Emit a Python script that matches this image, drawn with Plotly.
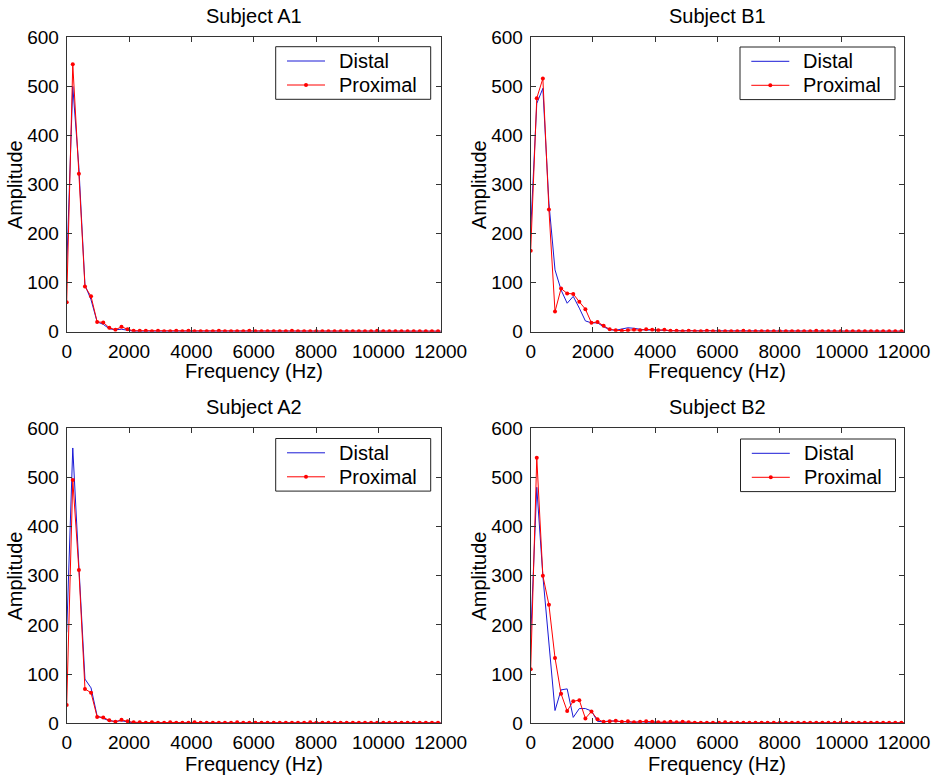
import plotly.graph_objects as go

FREQ = [0, 195, 391, 586, 781, 977, 1172, 1367, 1563, 1758, 1953, 2148, 2344, 2539, 2734,
        2930, 3125, 3320, 3516, 3711, 3906, 4102, 4297, 4492, 4688, 4883, 5078, 5273, 5469,
        5664, 5859, 6055, 6250, 6445, 6641, 6836, 7031, 7227, 7422, 7617, 7813, 8008, 8203,
        8398, 8594, 8789, 8984, 9180, 9375, 9570, 9766, 9961, 10156, 10352, 10547, 10742,
        10938, 11133, 11328, 11523, 11719, 11914, 12109]

TITLES = ["Subject A1", "Subject B1", "Subject A2", "Subject B2"]
SERIES_NAMES = ["Distal", "Proximal"]
X_TICKS = [0, 2000, 4000, 6000, 8000, 10000, 12000]
X_TICK_TEXT = ["0", "2000", "4000", "6000", "8000", "10000", "12000"]
Y_TICKS = [0, 100, 200, 300, 400, 500, 600]
Y_TICK_TEXT = ["0", "100", "200", "300", "400", "500", "600"]

A1_DISTAL = [130, 500, 335, 95, 65, 20, 15, 6, 4, 5, 3, 1, 1, 1, 1, 1, 1, 1, 1, 1,
             1, 1, 1, 1, 1, 1, 1, 1, 1, 1, 1, 1, 1, 1, 1, 1, 1, 1, 1, 1,
             1, 1, 1, 1, 1, 1, 1, 1, 1, 1, 1, 1, 1, 1, 1, 1, 1, 1, 1, 1,
             1, 1, 1]
A1_PROXIMAL = [60, 545, 322, 92, 72, 20, 19, 8, 4, 10, 5, 2, 2, 2, 1, 2, 1, 1, 2, 1,
               2, 1, 1, 1, 1, 2, 1, 1, 1, 1, 2, 1, 1, 1, 1, 1, 1, 2, 1, 1,
               1, 1, 1, 1, 1, 1, 1, 1, 1, 1, 1, 2, 1, 1, 1, 1, 1, 1, 1, 1,
               1, 1, 1]

B1_DISTAL = [207, 465, 496, 262, 126, 85, 58, 72, 48, 22, 18, 18, 10, 4, 3, 5, 8, 7, 5, 3,
             4, 3, 3, 2, 2, 2, 1, 1, 1, 1, 1, 1, 1, 1, 1, 1, 1, 1, 1, 1,
             1, 1, 1, 1, 1, 1, 1, 1, 1, 1, 1, 1, 1, 1, 1, 1, 1, 1, 1, 1,
             1, 1, 1]
B1_PROXIMAL = [165, 476, 516, 249, 41, 88, 78, 77, 61, 46, 18, 20, 12, 5, 3, 2, 3, 4, 3, 5,
               4, 3, 4, 2, 2, 1, 2, 1, 1, 2, 1, 1, 1, 1, 1, 2, 1, 1, 1, 1,
               1, 1, 1, 1, 1, 1, 1, 2, 1, 1, 1, 1, 1, 1, 1, 1, 1, 1, 1, 1,
               1, 1, 1]

A2_DISTAL = [185, 560, 320, 90, 72, 15, 10, 5, 4, 5, 3, 1, 1, 1, 1, 1, 1, 1, 1, 1,
             1, 1, 1, 1, 1, 1, 1, 1, 1, 1, 1, 1, 1, 1, 1, 1, 1, 1, 1, 1,
             1, 1, 1, 1, 1, 1, 1, 1, 1, 1, 1, 1, 1, 1, 1, 1, 1, 1, 1, 1,
             1, 1, 1]
A2_PROXIMAL = [37, 495, 312, 70, 62, 13, 12, 6, 3, 7, 4, 2, 2, 1, 2, 1, 1, 2, 1, 1,
               1, 2, 1, 1, 1, 1, 1, 1, 2, 1, 1, 1, 1, 1, 1, 1, 1, 1, 1, 1,
               2, 1, 1, 1, 1, 1, 1, 1, 1, 1, 1, 1, 1, 1, 1, 1, 1, 1, 1, 1,
               1, 1, 1]

B2_DISTAL = [175, 480, 300, 160, 26, 68, 70, 12, 30, 30, 25, 4, 3, 5, 4, 3, 2, 2, 3, 2,
             2, 2, 1, 1, 2, 1, 1, 1, 1, 1, 1, 1, 2, 1, 1, 1, 1, 1, 1, 1,
             1, 1, 1, 1, 1, 1, 1, 1, 1, 1, 1, 1, 1, 1, 1, 1, 1, 1, 1, 1,
             1, 1, 1]
B2_PROXIMAL = [110, 540, 300, 241, 133, 60, 25, 45, 47, 10, 24, 8, 3, 4, 5, 3, 4, 2, 3, 4,
               3, 2, 2, 3, 2, 3, 2, 1, 1, 1, 1, 1, 2, 1, 1, 1, 1, 1, 1, 1,
               1, 1, 1, 1, 1, 1, 1, 1, 1, 1, 1, 1, 1, 1, 1, 1, 1, 1, 1, 1,
               1, 1, 1]

SERIES = [(A1_DISTAL, A1_PROXIMAL), (B1_DISTAL, B1_PROXIMAL),
          (A2_DISTAL, A2_PROXIMAL), (B2_DISTAL, B2_PROXIMAL)]

W, H = 940, 778
# plot-area pixel boxes (left, right, top, bottom)
BOXES = [(66.7, 440.7, 37.3, 331.7), (530.7, 904.0, 37.3, 331.7),
         (66.7, 440.7, 428.3, 723.3), (530.7, 904.0, 428.3, 723.3)]
# legend box (right, top) in pixels
LEGEND_POS = [(430.7, 46.7), (895.0, 47.0), (430.7, 438.5), (895.5, 439.0)]
XLABEL_SHIFT = [-39, -39, -41, -41]

FONT = "Liberation Sans, Arial, sans-serif"
AX_COLOR = "#333333"
BLUE = "#1a1ad6"
RED = "#ff0000"
COLORS = [BLUE, RED]


def px(x):
    return x / W


def py(y):
    return 1 - y / H


fig = go.Figure()
layout = dict(width=W, height=H, margin=dict(l=0, r=0, t=0, b=0, autoexpand=False),
              paper_bgcolor="white", plot_bgcolor="white", showlegend=False,
              font=dict(family=FONT, size=19, color="black"))
annotations = []
shapes = []

for k in range(4):
    ax = "" if k == 0 else str(k + 1)
    l, r, t, b = BOXES[k]
    dist, prox = SERIES[k]
    fig.add_trace(go.Scatter(x=FREQ[:len(dist)], y=dist, mode="lines", name=SERIES_NAMES[0],
                             line=dict(color=BLUE, width=1), xaxis="x" + ax, yaxis="y" + ax))
    fig.add_trace(go.Scatter(x=FREQ[:len(prox)], y=prox, mode="lines+markers",
                             name=SERIES_NAMES[1],
                             line=dict(color=RED, width=1), marker=dict(color=RED, size=4),
                             xaxis="x" + ax, yaxis="y" + ax))
    common = dict(showline=True, linecolor=AX_COLOR, linewidth=1, mirror="allticks",
                  ticks="inside", ticklen=5, tickcolor=AX_COLOR, showgrid=False,
                  zeroline=False, automargin=False,
                  tickfont=dict(family=FONT, size=19, color="black"))
    layout["xaxis" + ax] = dict(domain=[l / W, r / W], range=[0, 12000], tickvals=X_TICKS,
                                ticktext=X_TICK_TEXT, anchor="y" + ax, ticklabelstandoff=2,
                                **common)
    layout["yaxis" + ax] = dict(domain=[1 - b / H, 1 - t / H], range=[0, 600], tickvals=Y_TICKS,
                                ticktext=Y_TICK_TEXT, anchor="x" + ax, ticklabelstandoff=3,
                                **common)

    # legend box drawn in the MATLAB style
    lr, lt = LEGEND_POS[k]
    shapes.append(dict(type="rect", xref="paper", yref="paper",
                       x0=px(lr - 155), x1=px(lr), y0=py(lt + 52.6), y1=py(lt),
                       line=dict(color="#222222", width=1), fillcolor="white", layer="above"))
    for j, name in enumerate(SERIES_NAMES):
        yy = lt + 14.3 + 24 * j
        shapes.append(dict(type="line", xref="paper", yref="paper",
                           x0=px(lr - 143.7), x1=px(lr - 105.7), y0=py(yy), y1=py(yy),
                           line=dict(color=COLORS[j], width=1), layer="above"))
        if j == 1:
            cx = lr - 124.7
            shapes.append(dict(type="circle", xref="paper", yref="paper",
                               x0=px(cx - 2), x1=px(cx + 2), y0=py(yy + 2), y1=py(yy - 2),
                               line=dict(color=RED, width=0), fillcolor=RED, layer="above"))
        annotations.append(dict(text=name, xref="paper", yref="paper", x=px(lr - 94),
                                y=py(yy), showarrow=False, xanchor="left", yanchor="middle",
                                font=dict(family=FONT, size=20, color="black")))

    annotations.append(dict(text=TITLES[k], xref=f"x{ax} domain", yref=f"y{ax} domain",
                            x=0.5, y=1, yshift=21, showarrow=False, xanchor="center",
                            yanchor="middle", font=dict(family=FONT, size=20, color="black")))
    annotations.append(dict(text="Frequency (Hz)", xref=f"x{ax} domain", yref=f"y{ax} domain",
                            x=0.5, y=0, yshift=XLABEL_SHIFT[k], showarrow=False,
                            xanchor="center", yanchor="middle",
                            font=dict(family=FONT, size=20, color="black")))
    annotations.append(dict(text="Amplitude", xref=f"x{ax} domain", yref=f"y{ax} domain",
                            x=0, y=0.5, xshift=-52, showarrow=False, textangle=-90,
                            xanchor="center", yanchor="middle",
                            font=dict(family=FONT, size=20, color="black")))

layout["annotations"] = annotations
layout["shapes"] = shapes
fig.update_layout(**layout)
fig.write_html("out.html", config={"displayModeBar": False},
               post_script="document.body.style.margin='0px';document.body.style.padding='0px';"
                           "document.body.style.overflow='hidden';")
